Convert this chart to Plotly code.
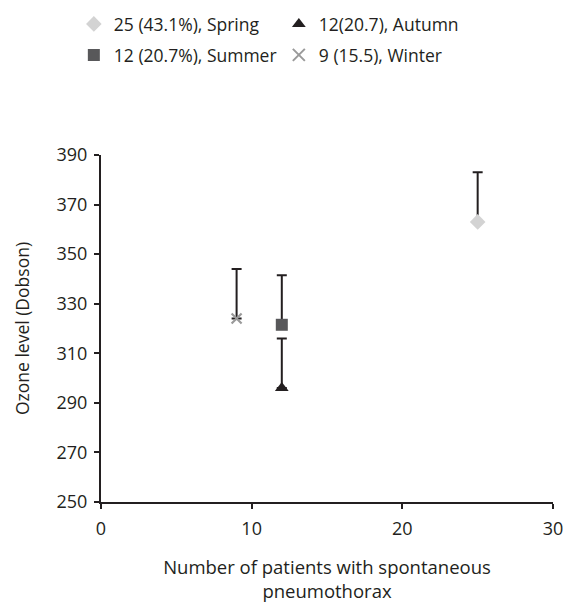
import plotly.graph_objects as go

labels = ["25 (43.1%), Spring", "12(20.7), Autumn", "12 (20.7%), Summer", "9 (15.5), Winter"]
patients = [25, 12, 12, 9]
ozone = [363, 296, 321.5, 324]
ozone_err_upper = [20, 20, 20, 20]

symbols = ["diamond", "triangle-up", "square", "x-thin"]
colors = ["#d3d3d3", "#231f20", "#58585a", "#9a9a9a"]
sizes = [12, 12, 12, 10]
legend_rows = ["legend", "legend", "legend2", "legend2"]

ink = "#231f20"
fig = go.Figure()
for lab, x, y, e, s, c, sz, lg in zip(labels, patients, ozone, ozone_err_upper, symbols, colors, sizes, legend_rows):
    marker = dict(symbol=s, color=c, size=sz)
    if s == "x-thin":
        marker["line"] = dict(color=c, width=2.2)
    fig.add_trace(go.Scatter(
        x=[x], y=[y], mode="markers", name=lab, marker=marker, legend=lg,
        error_y=dict(type="data", symmetric=False, array=[e], arrayminus=[0],
                     color=ink, thickness=2, width=5),
    ))

font_family = "Open Sans, Noto Sans, sans-serif"
leg_common = dict(orientation="h", xref="container", yref="container", x=0.130, xanchor="left",
                  yanchor="middle", entrywidth=160, font=dict(size=17.5, color=ink),
                  itemsizing="constant", bgcolor="rgba(0,0,0,0)")
fig.update_layout(
    width=568, height=603,
    margin=dict(l=101, r=15, t=155, b=101, autoexpand=False),
    paper_bgcolor="white", plot_bgcolor="white",
    font=dict(family=font_family, color=ink, size=17),
    showlegend=True,
    legend=dict(leg_common, y=1 - 24 / 603),
    legend2=dict(leg_common, y=1 - 55 / 603),
    xaxis=dict(range=[0, 30], tickvals=[0, 10, 20, 30], showgrid=False, zeroline=False,
               automargin=False,
               showline=True, linecolor=ink, linewidth=2, ticks="outside", ticklen=5,
               tickcolor=ink, tickwidth=2, ticklabelstandoff=4, tickfont=dict(size=18),
               title=dict(text="Number of patients with spontaneous<br>pneumothorax",
                          font=dict(size=18.5), standoff=29)),
    yaxis=dict(range=[250, 390], tickvals=[250, 270, 290, 310, 330, 350, 370, 390],
               automargin=False,
               showgrid=False, zeroline=False, showline=True, linecolor=ink, linewidth=2,
               ticks="outside", ticklen=5, tickcolor=ink, tickwidth=2, ticklabelstandoff=3,
               tickfont=dict(size=18),
               title=dict(text="Ozone level (Dobson)", font=dict(size=17.5), standoff=22)),
)
fig.write_html("out.html", config={"displayModeBar": False},
               post_script="document.body.style.margin='0';document.body.style.overflow='hidden';")
